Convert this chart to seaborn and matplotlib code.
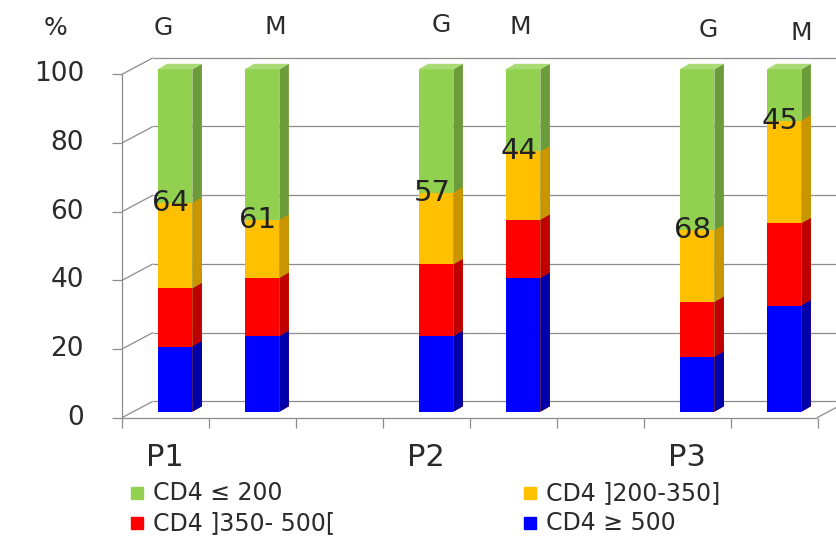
import matplotlib
matplotlib.use("Agg")
import matplotlib.pyplot as plt
from matplotlib.patches import Polygon
import seaborn as sns

# ---- data -------------------------------------------------------------
periods = ["P1", "P2", "P3"]
groups = ["G", "M", "G", "M", "G", "M"]
cd4_ge500 = [19, 22, 22, 39, 16, 31]      # CD4 >= 500
cd4_350_500 = [17, 17, 21, 17, 16, 24]    # CD4 ]350-500[
cd4_200_350 = [25, 17, 21, 20, 21, 30]    # CD4 ]200-350]
cd4_le200 = [39, 44, 36, 24, 47, 15]      # CD4 <= 200
y_ticks = [0, 20, 40, 60, 80, 100]
legend_labels = ["CD4 ≤ 200", "CD4 ]200-350]", "CD4 ]350- 500[", "CD4 ≥ 500"]

# ---- layout ------------------------------------------------------------
W, H = 837, 541
slots = [0, 1, 3, 4, 6, 7]          # bar positions, one empty slot between periods
X0_PX, X_UNIT = 175.0, 87.0         # pixel of slot 0 centre, pixels per slot
Y0_PX, Y_UNIT = 411.7, 3.424        # pixel of 0 % (bar base), pixels per %
BAR_W = 0.4
DEPTH_PX = (9.5, 5.5)               # bar side/top extrusion
WALL_PX = (31.0, 16.5)              # front plane -> back wall offset

front_face = ["#92D050", "#FFC000", "#FF0000", "#0000FF"]
side_face = ["#6C9C3A", "#C99600", "#BE0000", "#0000AA"]
top_face = "#A9DB74"
axis_col = "#8C8C8C"
text_col = "#2B2B2B"


def px(xp, yp):
    """pixel position (from top-left) -> data coordinates"""
    return (xp - X0_PX) / X_UNIT, (Y0_PX - yp) / Y_UNIT


sns.set_theme(style="white")
plt.rcParams["font.family"] = ["DejaVu Sans"]

fig = plt.figure(figsize=(W / 100, H / 100), dpi=100)
ax = fig.add_axes([0, 0, 1, 1])

ddx = DEPTH_PX[0] / X_UNIT
ddy = DEPTH_PX[1] / Y_UNIT

# cumulative heights, tallest layer first so that lower layers overlay it
layers = [cd4_ge500, cd4_350_500, cd4_200_350, cd4_le200]
cum = []
run = [0] * len(slots)
for lay in layers:
    run = [a + b for a, b in zip(run, lay)]
    cum.append(run)
cum_top_first = cum[::-1]   # green, orange, red, blue

for k, heights in enumerate(cum_top_first):
    n_before = len(ax.patches)
    sns.barplot(x=slots, y=heights, native_scale=True, width=BAR_W,
                color=front_face[k], saturation=1, errorbar=None,
                ax=ax, zorder=3, linewidth=0)
    for p in ax.patches[n_before:]:
        x0, y0 = p.get_x(), p.get_y()
        w, h = p.get_width(), p.get_height()
        x1, y1 = x0 + w, y0 + h
        side = Polygon([(x1, y0), (x1 + ddx, y0 + ddy), (x1 + ddx, y1 + ddy), (x1, y1)],
                       closed=True, facecolor=side_face[k], edgecolor="none", zorder=3)
        ax.add_patch(side)
        if k == 0:
            top = Polygon([(x0, y1), (x0 + ddx, y1 + ddy), (x1 + ddx, y1 + ddy), (x1, y1)],
                          closed=True, facecolor=top_face, edgecolor="none", zorder=3)
            ax.add_patch(top)

# ---- walls, grid and axes -----------------------------------------------
AX_L, AX_R, AX_B = 122.0, 817.0, 417.7
Y_AX_UNIT = 3.434
wx, wy = WALL_PX


def line(p0, p1, **kw):
    a, b = px(*p0), px(*p1)
    ax.plot([a[0], b[0]], [a[1], b[1]], color=axis_col, lw=0.9,
            solid_capstyle="butt", zorder=1, **kw)


for v in y_ticks:
    yp = AX_B - v * Y_AX_UNIT
    line((AX_L + wx, yp - wy), (W + 40, yp - wy))          # back wall grid
    line((AX_L, yp), (AX_L + wx, yp - wy))                 # side wall
    line((AX_L - 10, yp), (AX_L, yp))                      # tick
    tx, ty = px(84, yp)
    ax.text(tx, ty, str(v), ha="right", va="center", fontsize=19, color=text_col)

line((AX_L, AX_B), (AX_L, AX_B - 100 * Y_AX_UNIT))         # front value axis
line((AX_L, AX_B), (AX_R, AX_B))                           # front floor edge
line((AX_R, AX_B), (AX_R + wx, AX_B - wy))                 # right floor edge
for k in range(9):
    xk = AX_L + k * X_UNIT
    line((xk, AX_B), (xk, AX_B + 10))

# ---- text --------------------------------------------------------------
pct = px(55, 28)
ax.text(*pct, "%", ha="center", va="center", fontsize=18, color=text_col)

group_label_px = [(163, 28), (275, 27), (441, 25), (520, 27), (708, 30), (801, 33)]
for g, (gx, gy) in zip(groups, group_label_px):
    ax.text(*px(gx, gy), g, ha="center", va="center", fontsize=18, color=text_col)

for i, per in enumerate(periods):
    s = slots[2 * i]
    xx = s - 10 / X_UNIT
    _, yy = px(0, 457)
    ax.text(xx, yy, per, ha="center", va="center", fontsize=22, color=text_col)

for s, g, o, r, b in zip(slots, cd4_le200, cd4_200_350, cd4_350_500, cd4_ge500):
    ax.text(s - 4 / X_UNIT, b + r + o, f"{g + o}", ha="center", va="center",
            fontsize=21, color="#222222", zorder=5)

# legend, two columns
legend_px = [(137, 493), (530, 493), (137, 523), (530, 523)]
legend_cols = [front_face[0], front_face[1], front_face[2], front_face[3]]
for lab, col, (lx, ly) in zip(legend_labels, legend_cols, legend_px):
    mx, my = px(lx, ly)
    ax.plot([mx], [my], marker="s", markersize=8.5, color=col, linestyle="none")
    tx, ty = px(lx + 16, ly)
    ax.text(tx, ty, lab, ha="left", va="center", fontsize=17, color=text_col)

ax.set_xlim(px(0, 0)[0], px(W, 0)[0])
ax.set_ylim(px(0, H)[1], px(0, 0)[1])
ax.set_axis_off()

fig.savefig("out.png", dpi=100, facecolor="white")
